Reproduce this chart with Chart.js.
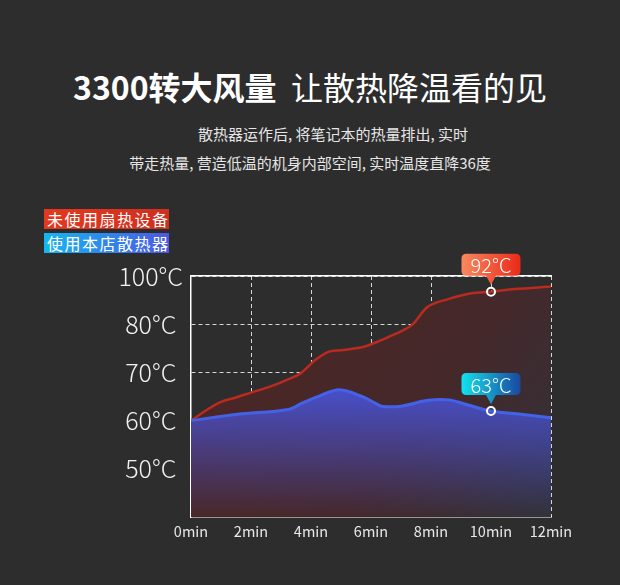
<!DOCTYPE html>
<html>
<head>
<meta charset="utf-8">
<script src="https://cdn.jsdelivr.net/npm/chart.js@4.4.1/dist/chart.umd.min.js"></script>
<style>
html, body { margin: 0; padding: 0; background: #2d2d2d; }
#page { position: relative; width: 620px; height: 585px; overflow: hidden; font-family: "Noto Sans CJK SC", "Noto Sans", sans-serif; color: #fff; }
.title { position: absolute; left: 0; top: 66px; width: 620px; text-align: center; font-size: 32px; line-height: 40px; font-weight: 400; }
.title b { font-weight: 700; }
.sub { position: absolute; font-size: 15px; line-height: 20px; color: #e6e6e6; white-space: nowrap; }
.leg { position: absolute; left: 44px; width: 122px; height: 20px; line-height: 20px; font-size: 16px; letter-spacing: 1.5px; padding-left: 3px; color: #fff; white-space: nowrap; }
#wrap { position: absolute; left: 0; top: 250px; width: 620px; height: 300px; }
</style>
</head>
<body>
<div id="page">
  <div class="title"><b>3300转大风量</b>&nbsp;&nbsp;让散热降温看的见</div>
  <div class="sub" style="left:198px;top:124px;">散热器运作后, 将笔记本的热量排出, 实时</div>
  <div class="sub" style="left:0;width:620px;text-align:center;top:153px;">带走热量, 营造低温的机身内部空间, 实时温度直降36度</div>
  <div class="leg" id="leg0" style="top:209px;background:linear-gradient(90deg,#e2391f,#cf2f1f);"></div>
  <div class="leg" id="leg1" style="top:233px;background:linear-gradient(90deg,#15b6ef,#4b58e4);"></div>
  <div id="wrap"><canvas id="chart"></canvas></div>
</div>
<script>
// series names
var seriesNames = ['未使用扇热设备', '使用本店散热器'];

// without cooler (red)
var redMinutes = [0, 0.6, 1.0, 1.5, 2.0, 2.7, 3.25, 3.65, 4.15, 4.6, 5.0, 5.7, 6.15, 6.5, 7.35, 7.9, 8.6, 9.35, 10, 10.8, 12];
var redTemps = [60, 62.5, 63.9, 64.8, 65.8, 67.2, 68.6, 69.8, 72.6, 74.3, 74.6, 75.2, 76.2, 77.1, 79.8, 87.3, 90.5, 92.8, 93.5, 94.6, 95.6];

// with cooler (blue)
var blueMinutes = [0, 1.55, 3.25, 3.7, 4.35, 4.95, 5.7, 6.15, 6.35, 7.0, 7.9, 8.6, 9.15, 10, 11, 12];
var blueTemps = [60, 61.3, 62.3, 63.6, 65.3, 66.4, 65.0, 63.6, 63.0, 63.0, 64.2, 64.3, 63.4, 62.0, 61.3, 60.6];

// axis ticks
var xTicks = [0, 2, 4, 6, 8, 10, 12];
var yTicks = [50, 60, 70, 80, 100];

// callouts
var markMinute = 10;
var markLabels = ['92°C', '63°C'];

function toPoints(xs, ys) {
    return xs.map(function(x, i) { return { x: x, y: ys[i] }; });
}

// the y axis squeezes 80..100 into one step, like the original picture
function warp(v) { return v <= 80 ? v : 80 + (v - 80) / 2; }
function unwarp(w) { return w <= 80 ? w : 80 + (w - 80) * 2; }

class BrokenScale extends Chart.LinearScale {
    getPixelForValue(value) {
        if (value === null || isNaN(value)) return NaN;
        var lo = warp(this.min), hi = warp(this.max);
        return this.getPixelForDecimal((warp(value) - lo) / (hi - lo));
    }
    getValueForPixel(pixel) {
        var lo = warp(this.min), hi = warp(this.max);
        return unwarp(lo + this.getDecimalForPixel(pixel) * (hi - lo));
    }
}
BrokenScale.id = 'broken';
BrokenScale.defaults = Chart.LinearScale.defaults;
Chart.register(BrokenScale);

var calloutColors = [['#f8895f', '#ea2a19'], ['#13e2ee', '#1a47a0']];

var callouts = {
    id: 'callouts',
    afterDatasetsDraw: function(chart) {
        var ctx = chart.ctx;
        chart.data.datasets.forEach(function(ds, i) {
            var idx = ds.data.findIndex(function(p) { return p.x === markMinute; });
            var pt = chart.getDatasetMeta(i).data[idx];
            if (!pt) return;
            var w = 59, h = 22, r = 5;
            var bottom = pt.y - 16, top = bottom - h, left = pt.x - w / 2;
            var g = ctx.createLinearGradient(left, 0, left + w, 0);
            g.addColorStop(0, calloutColors[i][0]);
            g.addColorStop(1, calloutColors[i][1]);
            ctx.save();
            ctx.fillStyle = g;
            ctx.beginPath();
            ctx.moveTo(left + r, top);
            ctx.lineTo(left + w - r, top);
            ctx.quadraticCurveTo(left + w, top, left + w, top + r);
            ctx.lineTo(left + w, bottom - r);
            ctx.quadraticCurveTo(left + w, bottom, left + w - r, bottom);
            ctx.lineTo(pt.x + 5, bottom);
            ctx.lineTo(pt.x, pt.y - 7);
            ctx.lineTo(pt.x - 5, bottom);
            ctx.lineTo(left + r, bottom);
            ctx.quadraticCurveTo(left, bottom, left, bottom - r);
            ctx.lineTo(left, top + r);
            ctx.quadraticCurveTo(left, top, left + r, top);
            ctx.closePath();
            ctx.fill();
            ctx.fillStyle = '#ffffff';
            ctx.font = '300 20px "Noto Sans CJK SC", "Noto Sans", sans-serif';
            ctx.textAlign = 'center';
            ctx.textBaseline = 'middle';
            ctx.fillText(markLabels[i], pt.x, top + h / 2 + 1);
            ctx.restore();
        });
    }
};

function redFill(c) {
    var a = c.chart.chartArea;
    if (!a) return 'rgba(0,0,0,0)';
    var g = c.chart.ctx.createLinearGradient(a.left, a.top, a.right, a.bottom);
    g.addColorStop(0, '#4d2624');
    g.addColorStop(0.62, '#45282a');
    g.addColorStop(1, '#31323a');
    return g;
}

function blueFill(c) {
    var a = c.chart.chartArea;
    if (!a) return 'rgba(0,0,0,0)';
    var g = c.chart.ctx.createLinearGradient(0, a.top, 0, a.bottom);
    g.addColorStop(0.45, 'rgba(72,84,222,0.92)');
    g.addColorStop(1, 'rgba(72,84,222,0)');
    return g;
}

function markRadius(c) {
    return c.raw && c.raw.x === markMinute ? 4 : 0;
}

document.getElementById('leg0').textContent = seriesNames[0];
document.getElementById('leg1').textContent = seriesNames[1];

var ctx = document.getElementById('chart').getContext('2d');
window.chart = new Chart(ctx, {
    type: 'line',
    data: {
        datasets: [
            {
                label: seriesNames[0],
                data: toPoints(redMinutes, redTemps),
                borderColor: '#bb2a1f',
                borderWidth: 2.5,
                backgroundColor: redFill,
                fill: 'start',
                tension: 0.35,
                order: 1,
                pointRadius: markRadius,
                pointBorderColor: '#ffffff',
                pointBorderWidth: 2,
                pointBackgroundColor: 'rgba(0,0,0,0)'
            },
            {
                label: seriesNames[1],
                data: toPoints(blueMinutes, blueTemps),
                borderColor: '#4462e8',
                borderWidth: 3,
                backgroundColor: blueFill,
                fill: 'start',
                tension: 0.35,
                order: 0,
                pointRadius: markRadius,
                pointBorderColor: '#ffffff',
                pointBorderWidth: 2,
                pointBackgroundColor: 'rgba(0,0,0,0)'
            }
        ]
    },
    options: {
        responsive: true,
        maintainAspectRatio: false,
        animation: false,
        events: [],
        layout: { padding: { left: 100, right: 69, top: 26, bottom: 0 } },
        plugins: {
            legend: { display: false },
            tooltip: { enabled: false }
        },
        scales: {
            x: {
                type: 'linear',
                min: 0,
                max: 12,
                afterBuildTicks: function(s) { s.ticks = xTicks.map(function(v) { return { value: v }; }); },
                afterFit: function(s) { s.height = 33; },
                ticks: {
                    padding: 6,
                    color: '#e8e8e8',
                    font: { family: '"Noto Sans CJK SC", "Noto Sans", sans-serif', size: 14.5 },
                    maxRotation: 0,
                    callback: function(v) { return v + 'min'; }
                },
                grid: {
                    drawTicks: false,
                    lineWidth: 1,
                    color: function(c) { return c.tick && c.tick.value === 0 ? 'rgba(0,0,0,0)' : 'rgba(255,255,255,0.8)'; }
                },
                border: { color: '#ffffff', width: 1.5, dash: [4, 3] }
            },
            xTop: {
                type: 'linear',
                position: 'top',
                min: 0,
                max: 12,
                ticks: { display: false },
                grid: { display: false, drawTicks: false },
                border: { color: '#ffffff', width: 1.5 }
            },
            y: {
                type: 'broken',
                min: 40,
                max: 100,
                afterBuildTicks: function(s) { s.ticks = yTicks.map(function(v) { return { value: v }; }); },
                afterFit: function(s) { s.width = 91; },
                ticks: {
                    padding: 8,
                    crossAlign: 'center',
                    color: '#f2f2f2',
                    font: { family: '"Noto Sans CJK SC", "Noto Sans", sans-serif', size: 25, weight: '300' },
                    callback: function(v) { return v + '°C'; }
                },
                grid: {
                    drawTicks: false,
                    lineWidth: 1,
                    color: 'rgba(255,255,255,0.8)'
                },
                border: { color: '#ffffff', width: 1.5, dash: [4, 3] }
            }
        }
    },
    plugins: [callouts]
});
</script>
</body>
</html>
